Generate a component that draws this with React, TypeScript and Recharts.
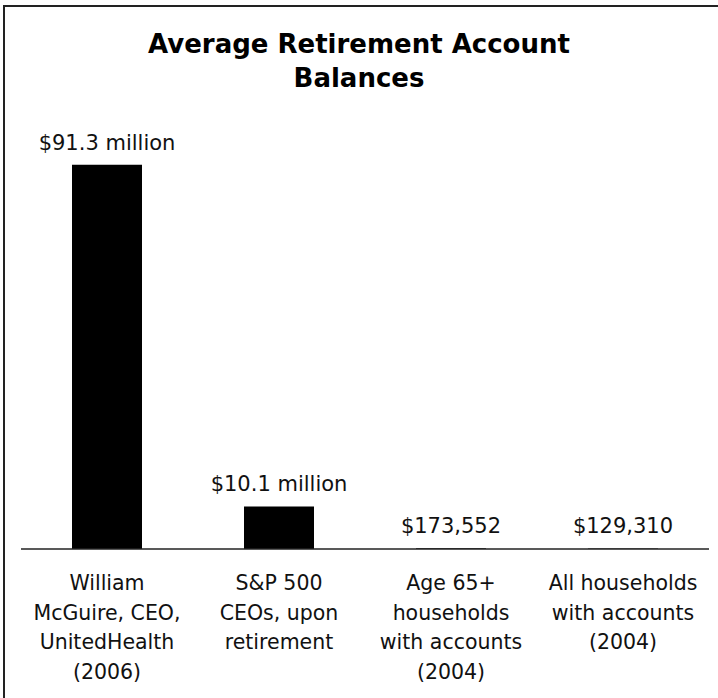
import React from "react";
import { BarChart, Bar, XAxis, YAxis, LabelList } from "recharts";

const categories: string[][] = [
  ["William", "McGuire, CEO,", "UnitedHealth", "(2006)"],
  ["S&P 500", "CEOs, upon", "retirement"],
  ["Age 65+", "households", "with accounts", "(2004)"],
  ["All households", "with accounts", "(2004)"],
];
const valuesMillions: number[] = [91.3, 10.1, 0.173552, 0.12931];
const valueLabels: string[] = ["$91.3 million", "$10.1 million", "$173,552", "$129,310"];
const titleLines: string[] = ["Average Retirement Account", "Balances"];

const data = categories.map((c, i) => ({
  key: String(i),
  value: valuesMillions[i],
  label: valueLabels[i],
}));

const FONT = "'DejaVu Sans', Verdana, sans-serif";

const CategoryTick = (props: any) => {
  const { x, y, payload } = props;
  const lines = categories[Number(payload.value)] || [];
  return (
    <text x={x} y={y} textAnchor="middle" fontFamily={FONT} fontSize={20.5} fill="#111">
      {lines.map((l, i) => (
        <tspan key={i} x={x} dy={i === 0 ? 41 : 29.5}>
          {l}
        </tspan>
      ))}
    </text>
  );
};

const ValueLabel = (props: any) => {
  const { x, y, width, value } = props;
  return (
    <text
      x={Number(x) + Number(width) / 2}
      y={Number(y) - 15}
      textAnchor="middle"
      fontFamily={FONT}
      fontSize={21}
      fill="#111"
    >
      {value}
    </text>
  );
};

export default function App() {
  return (
    <div
      style={{
        position: "absolute",
        left: 0,
        top: 0,
        width: 718,
        height: 698,
        background: "#fff",
        overflow: "hidden",
      }}
    >
      <div
        style={{
          position: "absolute",
          left: 3,
          top: 5,
          width: 720,
          height: 700,
          borderLeft: "2px solid #222",
          borderTop: "2px solid #222",
        }}
      />
      <div
        style={{
          position: "absolute",
          left: 0,
          top: 27,
          width: 718,
          textAlign: "center",
          fontFamily: FONT,
          fontWeight: "bold",
          fontSize: 26,
          lineHeight: "34px",
          color: "#000",
        }}
      >
        {titleLines.map((t, i) => (
          <div key={i}>{t}</div>
        ))}
      </div>
      <div style={{ position: "absolute", left: 0, top: 0 }}>
        <BarChart
          width={718}
          height={698}
          data={data}
          margin={{ top: 128, right: 9, bottom: 29, left: 21 }}
          barSize={70}
        >
          <XAxis
            dataKey="key"
            height={120}
            tickLine={false}
            tickSize={0}
            tickMargin={0}
            axisLine={{ stroke: "#222", strokeWidth: 1.5 }}
            tick={<CategoryTick />}
            interval={0}
          />
          <YAxis hide domain={[0, 100]} />
          <Bar dataKey="value" fill="#000" isAnimationActive={false}>
            <LabelList dataKey="label" content={<ValueLabel />} />
          </Bar>
        </BarChart>
      </div>
    </div>
  );
}
